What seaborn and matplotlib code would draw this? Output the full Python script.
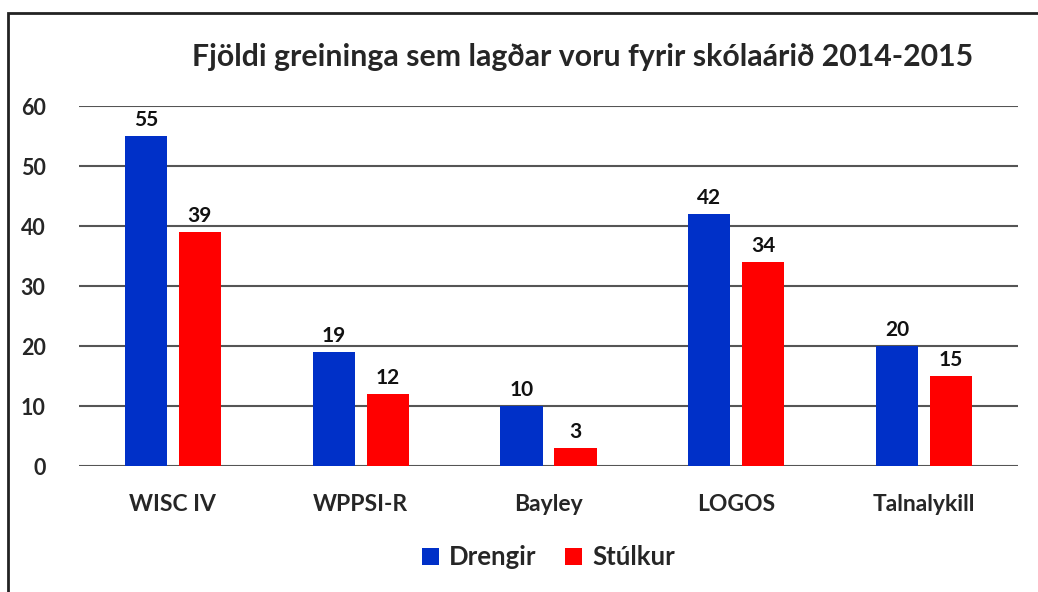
import matplotlib
matplotlib.use("Agg")
import matplotlib.pyplot as plt
import seaborn as sns
import pandas as pd
from matplotlib.patches import Rectangle

categories = ["WISC IV", "WPPSI-R", "Bayley", "LOGOS", "Talnalykill"]
drengir = [55, 19, 10, 42, 20]
stulkur = [39, 12, 3, 34, 15]
series_names = ["Drengir", "Stúlkur"]
y_ticks = [0, 10, 20, 30, 40, 50, 60]
title = "Fjöldi greininga sem lagðar voru fyrir skólaárið 2014-2015"

df = pd.DataFrame({
    "test": categories * 2,
    "kyn": [series_names[0]] * len(categories) + [series_names[1]] * len(categories),
    "fjoldi": drengir + stulkur,
})

sns.set_theme(style="white")
plt.rcParams['font.family'] = ['Lato', 'DejaVu Sans']
plt.rcParams['font.weight'] = 'bold'

fig = plt.figure(figsize=(10.38, 5.92), dpi=100)
ax = fig.add_axes([0.0761, 0.2128, 0.9046, 0.6081])

palette = {"Drengir": "#0030C8", "Stúlkur": "#FF0000"}
sns.barplot(data=df, x="test", y="fjoldi", hue="kyn", palette=palette,
            width=0.575, gap=0.22, saturation=1, linewidth=0,
            ax=ax, legend=True, zorder=3)

for cont in ax.containers:
    ax.bar_label(cont, padding=4, fontsize=15, fontweight='bold', color='#111111')

ax.set_xlim(-0.5, 4.5)
ax.set_ylim(0, 60)
ax.set_yticks(y_ticks)
ax.yaxis.grid(True, color='#555555', linewidth=1.5, zorder=0)
ax.set_axisbelow(True)
for s in ax.spines.values():
    s.set_visible(False)
ax.tick_params(axis='y', length=0, pad=24, labelsize=15.5)
ax.tick_params(axis='x', length=0, pad=20, labelsize=16.5)
for lab in ax.get_yticklabels() + ax.get_xticklabels():
    lab.set_fontweight('bold')
ax.set_xlabel("")
ax.set_ylabel("")

leg = ax.legend(loc='center', bbox_to_anchor=(0.5, -0.253), ncol=2, frameon=False,
                fontsize=18.5, handlelength=0.65, handleheight=0.65, handletextpad=0.4,
                columnspacing=1.1)
for t in leg.get_texts():
    t.set_fontweight('bold')

fig.text(0.561, 0.903, title, ha='center', va='center', fontsize=21.8, fontweight='bold')

fig.patches.append(Rectangle((8 / 1038, -0.1), 1.2, 1 - 13 / 592 + 0.1,
                             transform=fig.transFigure, fill=False,
                             edgecolor='#222222', linewidth=2, zorder=10))

fig.savefig("out.png", dpi=100)
